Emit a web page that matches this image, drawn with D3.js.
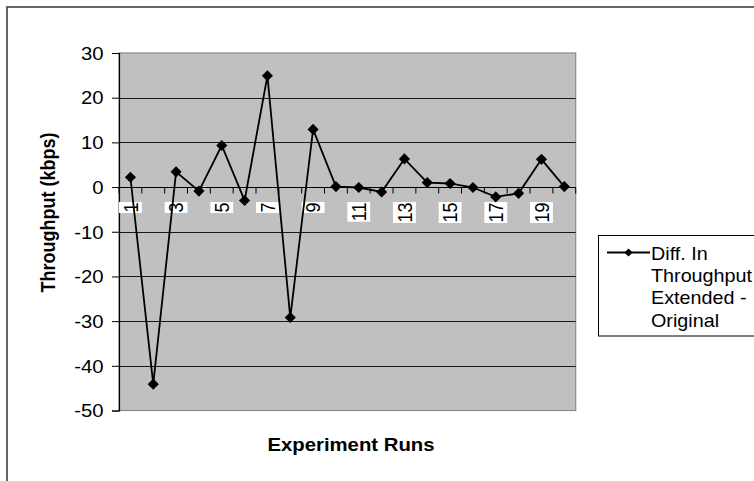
<!DOCTYPE html>
<html><head><meta charset="utf-8">
<script src="https://cdn.jsdelivr.net/npm/d3@7"></script>
<style>html,body{margin:0;padding:0;background:#fff;overflow:hidden}svg{display:block;font-family:Arial,"Liberation Sans",sans-serif}</style>
</head><body>
<svg id="c" width="754" height="481"></svg>
<script>
const categories = ["1","2","3","4","5","6","7","8","9","10","11","12","13","14","15","16","17","18","19","20"];
const values = [2.2,-44.1,3.4,-0.9,9.3,-3.0,24.9,-29.2,12.9,0.1,-0.1,-1.1,6.3,1.0,0.8,-0.1,-2.2,-1.4,6.2,0.1];
const yTicks = [-50,-40,-30,-20,-10,0,10,20,30];
const xLabels = ["1","3","5","7","9","11","13","15","17","19"];
const seriesName = ["Diff. In","Throughput","Extended -","Original"];
const yTitle = "Throughput (kbps)";
const xTitle = "Experiment Runs";

const SX = 1.13; // horizontal stretch of the original rendering
const SXL = 1.04;
const svg = d3.select("#c");
const L = 119, R = 575.7, T = 53, B = 410.5;
const x = d3.scaleBand().domain(categories).range([L, R]).padding(0);
const y = d3.scaleLinear().domain([-50, 30]).range([B, T]);

// outer chart border
svg.append("rect").attr("x",7).attr("y",7).attr("width",800).attr("height",600)
  .attr("fill","#fff").attr("stroke","#404040").attr("stroke-width",1.6);

// plot area
svg.append("rect").attr("x",L).attr("y",T).attr("width",R-L).attr("height",B-T)
  .attr("fill","#c0c0c0").attr("stroke","#8a8a8a").attr("stroke-width",1.2);

// gridlines
svg.append("g").selectAll("line").data(yTicks.filter(d => d !== 0 && d !== 30 && d !== -50)).join("line")
  .attr("x1",L).attr("x2",R).attr("y1",d=>Math.round(y(d))+0.5).attr("y2",d=>Math.round(y(d))+0.5)
  .attr("stroke","#1a1a1a").attr("stroke-width",1);

// y axis
const ya = svg.append("g").attr("transform",`translate(${L},0)`)
  .call(d3.axisLeft(y).tickValues(yTicks).tickSize(7).tickFormat(d => String(d)));
ya.select(".domain").attr("stroke","#000").attr("stroke-width",1.2);
ya.selectAll(".tick line").attr("stroke","#000");
ya.selectAll(".tick text").each(function(d){
  const t = d3.select(this);
  t.attr("x",null).attr("dy",null).attr("text-anchor","end")
   .attr("transform",`translate(-15.5,6.3) scale(${SX},1)`)
   .attr("font-size",18).attr("font-family","Arial, 'Liberation Sans', sans-serif").attr("fill","#000");
});

// zero axis line with category ticks
const y0 = Math.round(y(0))+0.5;
svg.append("line").attr("x1",L).attr("x2",R).attr("y1",y0).attr("y2",y0).attr("stroke","#000").attr("stroke-width",1);
const bounds = categories.map(c => x(c)).concat([R]);
svg.append("g").selectAll("line").data(bounds).join("line")
  .attr("x1",d=>d).attr("x2",d=>d).attr("y1",y0).attr("y2",y0+6).attr("stroke","#000").attr("stroke-width",1);

// x tick labels (rotated with white boxes)
const lab = svg.append("g");
xLabels.forEach(c => {
  const cx = x(c) + x.bandwidth()/2, top = 202;
  const g = lab.append("g");
  const r = g.append("rect").attr("fill","#fff");
  const t = g.append("text").text(c).attr("font-size",18).attr("text-anchor","end").attr("dy","0.36em")
    .attr("transform",`translate(${cx},${top+0.5}) scale(${SX},1) rotate(-90)`);
  const len = t.node().getComputedTextLength();
  r.attr("x",x(c)).attr("y",top).attr("width",x.bandwidth()).attr("height",len+1);
});

// series line
const px = d => x(d.c) + x.bandwidth()/2;
const pts = categories.map((c,i)=>({c, v: values[i]}));
svg.append("path").datum(pts)
  .attr("d", d3.line().x(px).y(d=>y(d.v)))
  .attr("fill","none").attr("stroke","#000").attr("stroke-width",1.8);
const diamond = d3.symbol(d3.symbolSquare, 62);
svg.append("g").selectAll("path").data(pts).join("path")
  .attr("d", diamond).attr("fill","#000")
  .attr("transform", d=>`translate(${px(d)},${y(d.v)}) rotate(45)`);

// axis titles
svg.append("text").text(xTitle).attr("font-weight","bold").attr("font-size",18)
  .attr("text-anchor","middle").attr("transform",`translate(351,450.5) scale(${SX},1)`);
svg.append("text").text(yTitle).attr("font-weight","bold").attr("font-size",18)
  .attr("text-anchor","middle").attr("transform",`translate(55,212.5) scale(${SX},1) rotate(-90)`);

// legend
svg.append("rect").attr("x",598.5).attr("y",235.5).attr("width",200).attr("height",100.5)
  .attr("fill","#fff").attr("stroke","#000").attr("stroke-width",1);
svg.append("line").attr("x1",607).attr("x2",650).attr("y1",252.5).attr("y2",252.5).attr("stroke","#000").attr("stroke-width",1.8);
svg.append("path").attr("d", d3.symbol(d3.symbolSquare, 34)).attr("fill","#000")
  .attr("transform","translate(628.5,252.5) rotate(45)");
seriesName.forEach((s,i) => {
  svg.append("text").text(s).attr("font-size",19)
    .attr("transform",`translate(651,${260 + i*22.2}) scale(${SXL},1)`);
});
</script>
</body></html>
